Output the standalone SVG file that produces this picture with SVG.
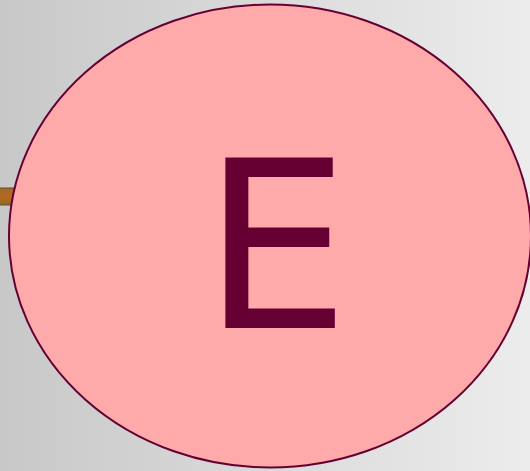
<svg xmlns="http://www.w3.org/2000/svg" width="530" height="471" viewBox="0 0 530 471">
  <defs>
    <linearGradient id="bg" x1="0" y1="0" x2="1" y2="0">
      <stop offset="0" stop-color="#c8c8c8"/>
      <stop offset="1" stop-color="#ececec"/>
    </linearGradient>
    <linearGradient id="small" x1="0" y1="0" x2="0" y2="1">
      <stop offset="0" stop-color="#9c6a34"/>
      <stop offset="0.5" stop-color="#b86a1c"/>
      <stop offset="1" stop-color="#8a6a2a"/>
    </linearGradient>
    <style>
      .node-shape { fill: #ffaaaa; stroke: #660033; stroke-width: 2; }
      .node-label { fill: #660033; font-family: "DejaVu Sans", sans-serif; font-size: 233px; text-anchor: middle; }
    </style>
  </defs>
  <rect x="0" y="0" width="530" height="471" fill="url(#bg)"/>
  <g id="connectors"/>
  <g id="node-small">
    <rect x="-2" y="188" width="16" height="17" fill="url(#small)" stroke="#6a4a1a" stroke-width="1"/>
  </g>
  <g id="node-E">
    <ellipse class="node-shape" cx="270" cy="236" rx="261" ry="231.5"/>
    <text class="node-label" x="276" y="328">E</text>
  </g>
</svg>
